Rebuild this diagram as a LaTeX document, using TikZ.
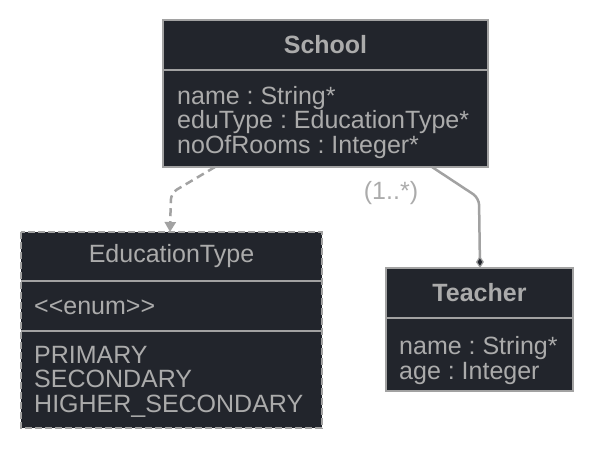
\documentclass[tikz,border=0pt]{standalone}
\usepackage{fontspec}
\setmainfont{Liberation Sans}
\usetikzlibrary{arrows.meta,positioning}

\definecolor{umlfill}{HTML}{22252C}
\definecolor{umlline}{HTML}{A2A2A2}
\definecolor{umltext}{HTML}{ABABAB}
\newcommand{\umlfont}{\fontsize{25}{24.4}\selectfont\lineskiplimit=-30pt\relax}

\begin{document}
\frenchspacing
\begin{tikzpicture}[
  x=1pt, y=-1pt,
  font=\umlfont,
  part/.style={fill=umlfill, text=umltext, anchor=north west,
    inner sep=0pt, outer sep=0pt, minimum width=#1},
  edge/.style={draw=umlline, line width=2.5pt},
  head/.style={font=\umlfont\bfseries},
  attrs/.style={text=umltext, align=left, anchor=west, inner sep=0pt},
  conn/.style={draw=umlline, line width=2.5pt, rounded corners=7pt}
]
\useasboundingbox (0,0) rectangle (593,449);

% School
\node[part=325pt, minimum height=50pt, edge, head] (schoolHead) at (163,20) {School};
\node[part=325pt, minimum height=97pt, edge, below=0pt of schoolHead.south west, anchor=north west] (schoolBody) {};
\node[attrs] (schoolAttrs) at ([xshift=14pt,yshift=-4pt]schoolBody.west)
  {name : String*\\eduType : EducationType*\\noOfRooms : Integer*};

% EducationType (enum, dashed outline, solid dividers)
\node[part=301pt, minimum height=49pt] (eduHead) at (21,232) {EducationType};
\node[part=301pt, minimum height=50pt, below=0pt of eduHead.south west, anchor=north west] (eduStereo) {};
\node[part=301pt, minimum height=97pt, below=0pt of eduStereo.south west, anchor=north west] (eduValues) {};
\draw[edge, dash pattern=on 7pt off 3pt] (eduHead.north west) rectangle (eduValues.south east);
\draw[edge] (eduStereo.north west) -- (eduStereo.north east);
\draw[edge] (eduValues.north west) -- (eduValues.north east);
\node[attrs] (eduStereoText) at ([xshift=13pt,yshift=-1pt]eduStereo.west)
  {\mbox{<}\mbox{<}enum\mbox{>}\mbox{>}};
\node[attrs] (eduLiterals) at ([xshift=13pt,yshift=-2pt]eduValues.west)
  {PRIMARY\\SECONDARY\\HIGHER\_SECONDARY};

% Teacher
\node[part=187pt, minimum height=50pt, edge, head] (teacherHead) at (386,268) {Teacher};
\node[part=187pt, minimum height=73pt, edge, below=0pt of teacherHead.south west, anchor=north west] (teacherBody) {};
\node[attrs] (teacherAttrs) at ([xshift=13pt,yshift=-6pt]teacherBody.west)
  {name : String*\\age : Integer};

\draw[conn, dash pattern=on 8pt off 5pt, -{Triangle[length=10pt,width=11pt]}]
  ([xshift=52pt]schoolBody.south west) -- (171,193) -- ([xshift=149pt]eduHead.north west);
\draw[conn, -{Diamond[length=12pt,width=8pt,fill=umlfill,line width=1.2pt]}]
  ([xshift=269pt]schoolBody.south west) -- (479,198) -- ([xshift=94pt]teacherHead.north west);
\node[text=umltext] (mult) at (391,193) {(1..*)};
\end{tikzpicture}
\end{document}
